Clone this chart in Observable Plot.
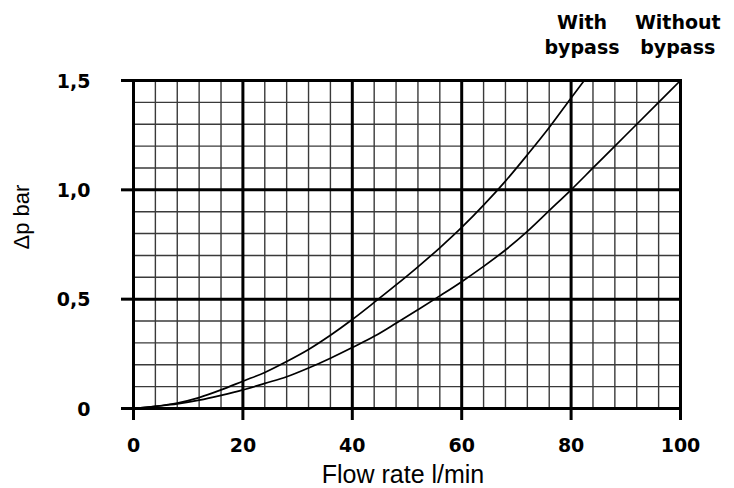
<!DOCTYPE html>
<html>
<head>
<meta charset="utf-8">
<script src="https://cdn.jsdelivr.net/npm/d3@7"></script>
<script src="https://cdn.jsdelivr.net/npm/@observablehq/plot@0.6"></script>
<style>
  html, body { margin: 0; padding: 0; background: #fff; }
  #chart svg { display: block; }
</style>
</head>
<body>
<div id="chart"></div>
<script>
// Flow rate (l/min) and pressure drop (bar)
const flow = [0, 4, 8, 12, 16, 20, 24, 28, 32, 36, 40, 44, 48, 52, 56, 60, 64, 68, 72, 76, 80, 82.4];
const withBypass = [0, 0.01, 0.025, 0.05, 0.085, 0.125, 0.165, 0.215, 0.27, 0.335, 0.407, 0.485, 0.565, 0.648, 0.735, 0.828, 0.93, 1.04, 1.16, 1.285, 1.42, 1.5];

const flow2 = [0, 4, 8, 12, 16, 20, 24, 28, 32, 36, 40, 44, 48, 52, 56, 60, 64, 68, 72, 76, 80, 84, 88, 92, 96, 100];
const withoutBypass = [0, 0.01, 0.021, 0.038, 0.06, 0.085, 0.115, 0.145, 0.185, 0.23, 0.279, 0.33, 0.39, 0.452, 0.515, 0.58, 0.65, 0.725, 0.81, 0.905, 1.0, 1.1, 1.2, 1.3, 1.4, 1.5];

const xMajor = [0, 20, 40, 60, 80, 100];
const yMajor = [0, 0.5, 1.0, 1.5];
const xMinor = d3.range(0, 101, 4);
const yMinor = d3.range(0, 16).map(i => i / 10);

const seriesLabels = ["With", "Without"];
const seriesLabels2 = ["bypass", "bypass"];
const seriesLabelX = [82, 99.5];

const xTitle = "Flow rate l/min";
const yTitle = "Δp bar";

const yTickLabel = d => d === 0 ? "0" : d.toFixed(1).replace(".", ",");

const withData = flow.map((x, i) => ({x, y: withBypass[i]}));
const withoutData = flow2.map((x, i) => ({x, y: withoutBypass[i]}));
const header = seriesLabels.map((t, i) => ({x: seriesLabelX[i], t, t2: seriesLabels2[i]}));

const BOLD = "DejaVu Sans, Verdana, sans-serif";
const REG = "Liberation Sans, Arial, sans-serif";

const chart = Plot.plot({
  width: 734,
  height: 488,
  marginLeft: 133,
  marginRight: 54,
  marginTop: 80,
  marginBottom: 80,
  style: {fontFamily: REG, background: "#fff", overflow: "visible"},
  x: {domain: [0, 100]},
  y: {domain: [0, 1.5]},
  marks: [
    Plot.ruleX(xMinor, {y1: 0, y2: 1.5, stroke: "#3a3a3a", strokeWidth: 1.4}),
    Plot.ruleY(yMinor, {x1: 0, x2: 100, stroke: "#3a3a3a", strokeWidth: 1.4}),
    Plot.ruleX(xMajor, {y1: 0, y2: 1.5, stroke: "#000", strokeWidth: 3}),
    Plot.ruleY(yMajor, {x1: 0, x2: 100, stroke: "#000", strokeWidth: 3}),
    Plot.axisX({ticks: xMajor, tickSize: 12, strokeWidth: 3, stroke: "#000", tickFormat: () => "", label: null}),
    Plot.axisY({ticks: yMajor, tickSize: 12, strokeWidth: 3, stroke: "#000", tickFormat: () => "", label: null}),
    Plot.frame({stroke: "#000", strokeWidth: 3}),
    Plot.line(withData, {x: "x", y: "y", curve: "monotone-x", stroke: "#000", strokeWidth: 1.7}),
    Plot.line(withoutData, {x: "x", y: "y", curve: "monotone-x", stroke: "#000", strokeWidth: 1.7}),
    // tick labels
    Plot.text(xMajor, {x: d => d, text: d => String(d), frameAnchor: "bottom", lineAnchor: "bottom", dy: 43,
      fontFamily: BOLD, fontWeight: "bold", fontSize: 19, fill: "#000"}),
    Plot.text(yMajor, {y: d => d, text: yTickLabel, frameAnchor: "left", textAnchor: "end", dx: -43, dy: 1,
      fontFamily: BOLD, fontWeight: "bold", fontSize: 19, fill: "#000"}),
    // series labels
    Plot.text(header, {x: "x", text: "t", frameAnchor: "top", lineAnchor: "bottom", dy: -52,
      fontFamily: BOLD, fontSize: 19, fontWeight: "bold", fill: "#000", textAnchor: "middle"}),
    Plot.text(header, {x: "x", text: "t2", frameAnchor: "top", lineAnchor: "bottom", dy: -27,
      fontFamily: BOLD, fontSize: 19, fontWeight: "bold", fill: "#000", textAnchor: "middle"}),
    // axis titles
    Plot.text([xTitle], {text: d => d, frameAnchor: "bottom", lineAnchor: "bottom", dy: 74, dx: -4, fontSize: 25, fill: "#000"}),
    Plot.text([yTitle], {text: d => d, frameAnchor: "left", dx: -112, dy: 5, rotate: -90, fontSize: 22, fill: "#000"})
  ]
});
document.getElementById("chart").appendChild(chart);
</script>
</body>
</html>
